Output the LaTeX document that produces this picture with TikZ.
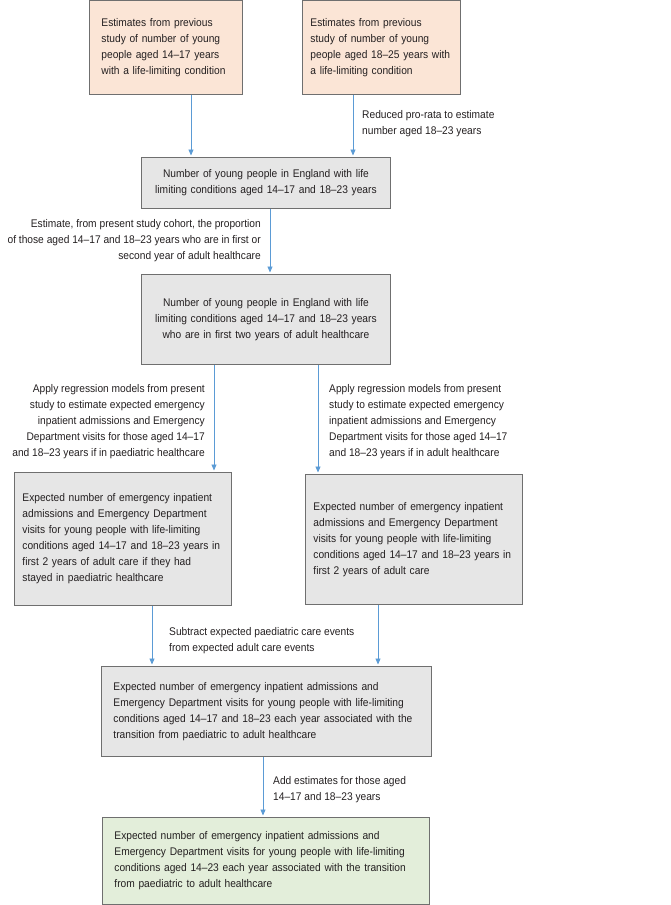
\documentclass[tikz,border=0pt]{standalone}
\usepackage{fontspec}
\setmainfont{Liberation Sans}[FakeStretch=0.92]
\usetikzlibrary{arrows.meta}
\definecolor{peach}{HTML}{FBE5D6}
\definecolor{boxgray}{HTML}{E6E6E6}
\definecolor{boxgreen}{HTML}{E3EEDA}
\definecolor{edge}{HTML}{6F6F6F}
\definecolor{arrowblue}{HTML}{5B9BD5}
\definecolor{ink}{HTML}{231F20}
\tikzset{
  every node/.style={font=\fontsize{11.1}{16}\selectfont, text=ink},
  flowbox/.style={draw=edge, line width=0.9pt, anchor=north west, inner ysep=0pt},
  lbl/.style={inner sep=0pt, text=ink},
  arr/.style={draw=arrowblue, line width=0.9pt, -{Triangle[length=6pt,width=5pt]}, shorten >=1.5pt}
}
\begin{document}
\begin{tikzpicture}[x=1pt,y=-1pt]
\useasboundingbox (0,0) rectangle (670,905);
% boxes
\node[flowbox, fill=peach, minimum width=153, minimum height=94, inner xsep=12, text width=129, align=left] (A) at (89,0)
  {Estimates from previous\\study of number of young\\people aged 14–17 years\\with a life-limiting condition};
\node[flowbox, fill=peach, minimum width=158, minimum height=94, inner xsep=8, text width=142, align=left] (B) at (302,0)
  {Estimates from previous\\study of number of young\\people aged 18–25 years with\\a life-limiting condition};
\node[flowbox, fill=boxgray, minimum width=249, minimum height=51, inner xsep=4, text width=241, align=center] (C) at (141,157)
  {Number of young people in England with life\\limiting conditions aged 14–17 and 18–23 years};
\node[flowbox, fill=boxgray, minimum width=249, minimum height=90, inner xsep=4, text width=241, align=center] (D) at (141,274)
  {Number of young people in England with life\\limiting conditions aged 14–17 and 18–23 years\\who are in first two years of adult healthcare};
\node[flowbox, fill=boxgray, minimum width=217, minimum height=133, inner xsep=8, text width=201, align=left] (E) at (14,472)
  {Expected number of emergency inpatient\\admissions and Emergency Department\\visits for young people with life-limiting\\conditions aged 14–17 and 18–23 years in\\first 2 years of adult care if they had\\stayed in paediatric healthcare};
\node[flowbox, fill=boxgray, minimum width=217, minimum height=130, inner xsep=8, text width=201, align=left] (F) at (305,474)
  {Expected number of emergency inpatient\\admissions and Emergency Department\\visits for young people with life-limiting\\\mbox{conditions aged 14–17 and 18–23 years in}\\first 2 years of adult care};
\node[flowbox, fill=boxgray, minimum width=330, minimum height=90, inner xsep=12, text width=306, align=left] (G) at (101,666)
  {Expected number of emergency inpatient admissions and\\Emergency Department visits for young people with life-limiting\\conditions aged 14–17 and 18–23 each year associated with the\\transition from paediatric to adult healthcare};
\node[flowbox, fill=boxgreen, minimum width=327, minimum height=87, inner xsep=12, text width=303, align=left] (H) at (102,817)
  {Expected number of emergency inpatient admissions and\\Emergency Department visits for young people with life-limiting\\conditions aged 14–23 each year associated with the transition\\from paediatric to adult healthcare};
% labels
\node[lbl, anchor=north west, align=left] (L1) at (362,110)
  {Reduced pro-rata to estimate\\number aged 18–23 years};
\node[lbl, anchor=north east, align=right] (L2) at (261,219)
  {Estimate, from present study cohort, the proportion\\of those aged 14–17 and 18–23 years who are in first or\\second year of adult healthcare};
\node[lbl, anchor=north east, align=right] (L3) at (205,384)
  {Apply regression models from present\\study to estimate expected emergency\\inpatient admissions and Emergency\\Department visits for those aged 14–17\\and 18–23 years if in paediatric healthcare};
\node[lbl, anchor=north west, align=left] (L4) at (329,384)
  {Apply regression models from present\\study to estimate expected emergency\\inpatient admissions and Emergency\\Department visits for those aged 14–17\\and 18–23 years if in adult healthcare};
\node[lbl, anchor=north west, align=left] (L5) at (169,627)
  {Subtract expected paediatric care events\\from expected adult care events};
\node[lbl, anchor=north west, align=left] (L6) at (273,776)
  {Add estimates for those aged\\14–17 and 18–23 years};
% arrow x positions
\coordinate (xa) at (191,0);
\coordinate (xb) at (353,0);
\coordinate (xc) at (270,0);
\coordinate (xd1) at (214,0);
\coordinate (xd2) at (318,0);
\coordinate (xe) at (152,0);
\coordinate (xf) at (378,0);
\coordinate (xg) at (263,0);
% arrows
\draw[arr] (A.south -| xa) -- (C.north -| xa);
\draw[arr] (B.south -| xb) -- (C.north -| xb);
\draw[arr] (C.south -| xc) -- (D.north -| xc);
\draw[arr] (D.south -| xd1) -- (E.north -| xd1);
\draw[arr] (D.south -| xd2) -- (F.north -| xd2);
\draw[arr] (E.south -| xe) -- (G.north -| xe);
\draw[arr] (F.south -| xf) -- (G.north -| xf);
\draw[arr] (G.south -| xg) -- (H.north -| xg);
\end{tikzpicture}
\end{document}
